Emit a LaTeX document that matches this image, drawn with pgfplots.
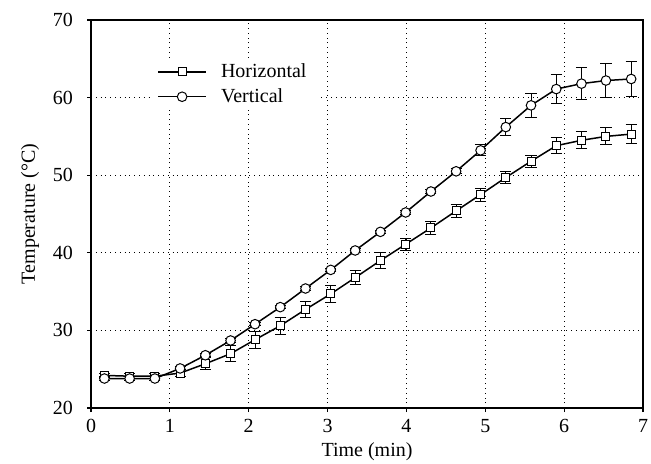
\documentclass[border=0pt]{standalone}
\usepackage{fontspec}
\setmainfont{Liberation Serif}
\usepackage{pgfplots}
\pgfplotsset{compat=1.18}
\begin{document}
\begin{tikzpicture}
\begin{axis}[
  scale only axis,
  width=276pt, height=194pt,
  xmin=0, xmax=7, ymin=20, ymax=70,
  xtick={0,1,...,7}, ytick={20,30,...,70},
  grid=major,
  major grid style={black, dotted, line width=0.6pt},
  axis line style={line width=1.3pt},
  tick align=outside, tick pos=left,
  major tick length=2pt,
  tick style={black, line width=0.6pt},
  xlabel={Time (min)},
  ylabel={Temperature (°C)},
  xlabel style={yshift=2pt},
  yticklabel style={xshift=-3.5pt},
  font=\fontsize{10}{12}\selectfont,
  /pgf/number format/assume math mode=true,
  legend style={draw=none, fill=white, at={(0.107,0.902)}, anchor=north west,
    inner xsep=3.5pt, inner ysep=0.5pt,
    font=\fontsize{10}{12}\selectfont, row sep=0pt},
  legend cell align=left,
  legend image code/.code={%
    \draw[mark repeat=2,mark phase=2] plot coordinates {(0cm,0cm) (0.42cm,0cm) (0.84cm,0cm)};
    \path (1.02cm,0cm);},
  error bars/error bar style={line width=0.5pt},
  error bars/error mark options={rotate=90, mark size=2.8pt, line width=0.5pt},
]
\addplot[black, line width=0.75pt, mark=square*, mark size=2pt,
  mark options={fill=white, solid, line width=0.5pt},
  error bars/.cd, y dir=both, y explicit] coordinates {
(0.17,24.2) +- (0,0.3)
(0.49,24.1) +- (0,0.3)
(0.81,24.1) +- (0,0.3)
(1.13,24.5) +- (0,0.4)
(1.45,25.7) +- (0,0.8)
(1.77,27.0) +- (0,1.05)
(2.08,28.8) +- (0,1.1)
(2.40,30.6) +- (0,1.1)
(2.72,32.7) +- (0,1.05)
(3.04,34.7) +- (0,1.05)
(3.35,36.8) +- (0,0.9)
(3.67,39.0) +- (0,1.0)
(3.99,41.1) +- (0,0.75)
(4.31,43.2) +- (0,0.8)
(4.63,45.4) +- (0,0.8)
(4.94,47.5) +- (0,0.85)
(5.26,49.7) +- (0,0.8)
(5.58,51.8) +- (0,0.8)
(5.90,53.8) +- (0,1.0)
(6.22,54.5) +- (0,1.1)
(6.53,55.0) +- (0,1.1)
(6.85,55.3) +- (0,1.2)
};
\addlegendentry{Horizontal}
\addplot[black, line width=0.75pt, mark=*, mark size=2.4pt,
  mark options={fill=white, solid, line width=0.5pt},
  error bars/.cd, y dir=both, y explicit] coordinates {
(0.17,23.8) +- (0,0.2)
(0.49,23.8) +- (0,0.2)
(0.81,23.8) +- (0,0.2)
(1.13,25.1) +- (0,0.2)
(1.45,26.8) +- (0,0.2)
(1.77,28.7) +- (0,0.2)
(2.08,30.8) +- (0,0.2)
(2.40,33.0) +- (0,0.2)
(2.72,35.4) +- (0,0.2)
(3.04,37.8) +- (0,0.2)
(3.35,40.3) +- (0,0.2)
(3.67,42.7) +- (0,0.2)
(3.99,45.2) +- (0,0.3)
(4.31,47.9) +- (0,0.3)
(4.63,50.5) +- (0,0.3)
(4.94,53.2) +- (0,0.7)
(5.26,56.2) +- (0,1.1)
(5.58,59.0) +- (0,1.5)
(5.90,61.1) +- (0,1.9)
(6.22,61.8) +- (0,2.1)
(6.53,62.2) +- (0,2.15)
(6.85,62.4) +- (0,2.3)
};
\addlegendentry{Vertical}
\end{axis}
\pgfresetboundingbox
\path (current axis.south west) ++(-45.5pt,-27.5pt) coordinate (bl);
\path (current axis.north east) ++(4pt,10pt) coordinate (tr);
\path[use as bounding box] (bl) rectangle (tr);
\end{tikzpicture}
\end{document}
